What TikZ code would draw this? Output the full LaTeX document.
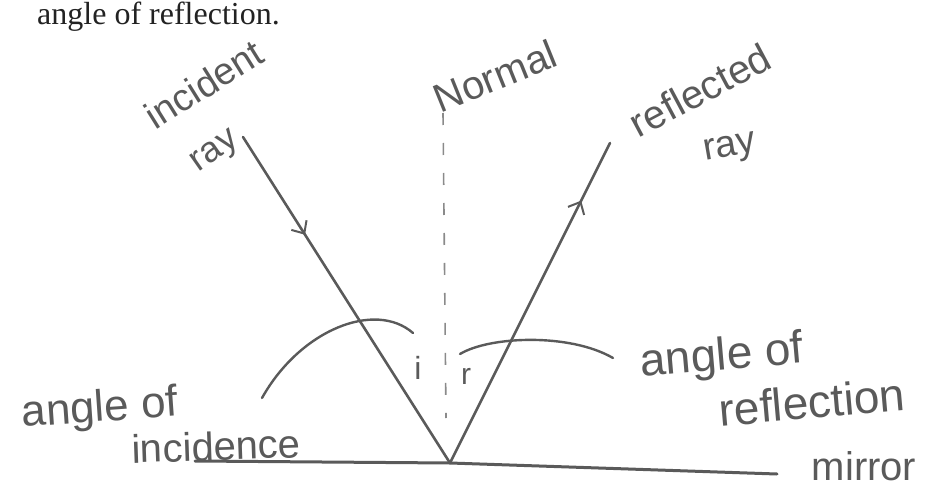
\documentclass[tikz,border=0pt]{standalone}
\usepackage{fontspec}
\setmainfont{Liberation Serif}
\setsansfont{Liberation Sans}
\usetikzlibrary{arrows.meta,decorations.markings}
\definecolor{pencil}{HTML}{5A5A5A}
\definecolor{lightpencil}{HTML}{8A8A8A}
\definecolor{ink}{HTML}{222222}
\tikzset{
  hand/.style={font=\sffamily\fontsize{#1}{#1}\selectfont, text=pencil, inner sep=0pt},
  hand/.default=40,
  ray/.style={draw=pencil, line width=2.6pt, line cap=round},
  midarrow/.style={postaction={decorate}, decoration={markings,
     mark=at position #1 with {\arrow[pencil,line width=2pt]{Straight Barb[length=10pt,width=18pt]}}}},
  normalline/.style={draw=lightpencil, line width=1.6pt, dash pattern=on 12pt off 18pt},
  arcline/.style={draw=pencil, line width=2.4pt, line cap=round},
  mirrorline/.style={draw=pencil, line width=3pt, line cap=round}
}
\begin{document}
\begin{tikzpicture}[x=1pt,y=-1pt]
\useasboundingbox (0,0) rectangle (929,487);
% printed heading
\node[anchor=base west, inner sep=0pt, text=ink, font=\fontsize{32}{32}\selectfont] (head) at (37,25) {angle of reflection.};
% geometry
\coordinate (P) at (450,463);
\coordinate (Ia) at (243,137);
\coordinate (Ra) at (610,143);
\coordinate (Na) at (443,113);
\coordinate (Nb) at (446,418);
\coordinate (Ml) at (195,461);
\coordinate (Mr) at (777,474);
% mirror
\draw[mirrorline] (Ml) -- (P) -- (Mr);
% normal
\draw[normalline] (Na) -- (Nb);
% rays
\draw[ray, midarrow=0.3] (Ia) -- (P);
\draw[ray, midarrow=0.82] (P) -- (Ra);
% arcs
\coordinate (La) at (262,398);
\coordinate (Lb) at (413,333);
\coordinate (Rb) at (460,354);
\coordinate (Rc) at (613,358);
\draw[arcline] (La) .. controls (300,330) and (375,300) .. (Lb);
\draw[arcline] (Rb) .. controls (490,336) and (570,333) .. (Rc);
% angle marks
\node[hand=32] (i) at (418,368) {i};
\node[hand=30] (r) at (466,376) {r};
% labels
\node[hand=38, rotate=32] (inc) at (204,84) {incident};
\node[hand=36, rotate=35] (ray1) at (216,153) {ray};
\node[hand=40, rotate=22] (nor) at (495,76) {Normal};
\node[hand=40, rotate=28] (refl) at (700,90) {reflected};
\node[hand=38, rotate=10] (ray2) at (730,150) {ray};
\node[hand=44, rotate=4] (aol) at (100,410) {angle of};
\node[hand=40, rotate=2] (incd) at (216,446) {incidence};
\node[hand=46, rotate=5] (aor) at (722,358) {angle of};
\node[hand=46, rotate=5] (refn) at (812,402) {reflection};
\node[hand=40] (mir) at (864,466) {mirror};
\end{tikzpicture}
\end{document}
